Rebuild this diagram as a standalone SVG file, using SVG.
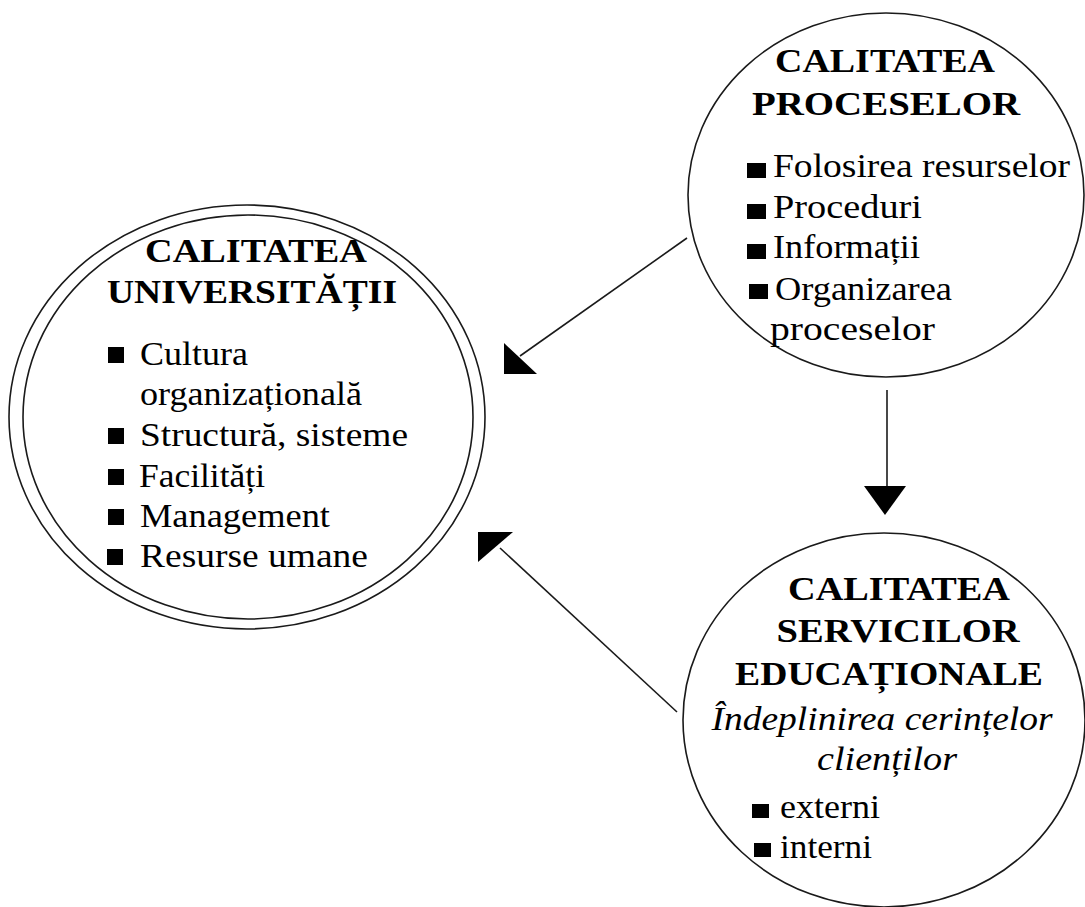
<svg xmlns="http://www.w3.org/2000/svg" width="1085" height="907" viewBox="0 0 1085 907">
<style>
.shape{fill:none;stroke:#1a1a1a;stroke-width:1.6}
.t{font-family:"Liberation Serif","Times New Roman",serif;font-size:33px;fill:#000}
.b{font-weight:bold;text-anchor:middle}
.m{text-anchor:middle}
.i{font-style:italic}
.bul{fill:#000}
.con{stroke:#1a1a1a;stroke-width:1.6;fill:none}
.head{fill:#000}
</style>
<rect width="1085" height="907" fill="#fff"/>
<g id="node-universitatii">
<ellipse class="shape" cx="247" cy="417" rx="238" ry="212"/>
<ellipse class="shape" cx="248" cy="417" rx="225" ry="202"/>
<text class="t b" x="256" y="262" textLength="222" lengthAdjust="spacingAndGlyphs">CALITATEA</text>
<text class="t b" x="252" y="303" textLength="290" lengthAdjust="spacingAndGlyphs">UNIVERSITĂȚII</text>
<rect class="bul" x="108" y="347" width="16" height="16"/>
<text class="t" x="140" y="365" textLength="108" lengthAdjust="spacingAndGlyphs">Cultura</text>
<text class="t" x="140" y="405" textLength="222" lengthAdjust="spacingAndGlyphs">organizațională</text>
<rect class="bul" x="108" y="428" width="16" height="16"/>
<text class="t" x="140" y="446" textLength="268" lengthAdjust="spacingAndGlyphs">Structură, sisteme</text>
<rect class="bul" x="108" y="469" width="16" height="16"/>
<text class="t" x="139" y="487" textLength="126" lengthAdjust="spacingAndGlyphs">Facilități</text>
<rect class="bul" x="108" y="509" width="16" height="16"/>
<text class="t" x="140" y="527" textLength="190" lengthAdjust="spacingAndGlyphs">Management</text>
<rect class="bul" x="107" y="549" width="16" height="16"/>
<text class="t" x="140" y="567" textLength="228" lengthAdjust="spacingAndGlyphs">Resurse umane</text>
</g>
<g id="node-procese">
<ellipse class="shape" cx="886" cy="195" rx="198" ry="182"/>
<text class="t b" x="885" y="72" textLength="220" lengthAdjust="spacingAndGlyphs">CALITATEA</text>
<text class="t b" x="886" y="115" textLength="268" lengthAdjust="spacingAndGlyphs">PROCESELOR</text>
<rect class="bul" x="747" y="163" width="19" height="15"/>
<text class="t" x="773" y="177" textLength="297" lengthAdjust="spacingAndGlyphs">Folosirea resurselor</text>
<rect class="bul" x="747" y="204" width="19" height="15"/>
<text class="t" x="773" y="218" textLength="149" lengthAdjust="spacingAndGlyphs">Proceduri</text>
<rect class="bul" x="747" y="244" width="19" height="15"/>
<text class="t" x="773" y="258" textLength="147" lengthAdjust="spacingAndGlyphs">Informații</text>
<rect class="bul" x="749" y="284" width="19" height="15"/>
<text class="t" x="775" y="300" textLength="177" lengthAdjust="spacingAndGlyphs">Organizarea</text>
<text class="t" x="770" y="340" textLength="165" lengthAdjust="spacingAndGlyphs">proceselor</text>
</g>
<g id="node-servicii">
<ellipse class="shape" cx="884" cy="720" rx="201" ry="187"/>
<text class="t b" x="899" y="600" textLength="222" lengthAdjust="spacingAndGlyphs">CALITATEA</text>
<text class="t b" x="898" y="642" textLength="243" lengthAdjust="spacingAndGlyphs">SERVICILOR</text>
<text class="t b" x="889" y="685" textLength="308" lengthAdjust="spacingAndGlyphs">EDUCAȚIONALE</text>
<text class="t m i" x="882" y="730" textLength="341" lengthAdjust="spacingAndGlyphs">Îndeplinirea cerințelor</text>
<text class="t m i" x="887" y="770" textLength="140" lengthAdjust="spacingAndGlyphs">clienților</text>
<rect class="bul" x="752" y="804" width="17" height="14"/>
<text class="t" x="780" y="818" textLength="100" lengthAdjust="spacingAndGlyphs">externi</text>
<rect class="bul" x="754" y="843" width="17" height="14"/>
<text class="t" x="780" y="858" textLength="92" lengthAdjust="spacingAndGlyphs">interni</text>
</g>
<g id="connectors">
<line class="con" x1="687" y1="238" x2="520" y2="356"/>
<polygon class="head" points="504,343 504,374 537,374"/>
<line class="con" x1="887" y1="390" x2="887" y2="488"/>
<polygon class="head" points="864,486 906,486 885,515"/>
<line class="con" x1="677" y1="712" x2="500" y2="548"/>
<polygon class="head" points="478,532 513,532 478,562"/>
</g>
</svg>
